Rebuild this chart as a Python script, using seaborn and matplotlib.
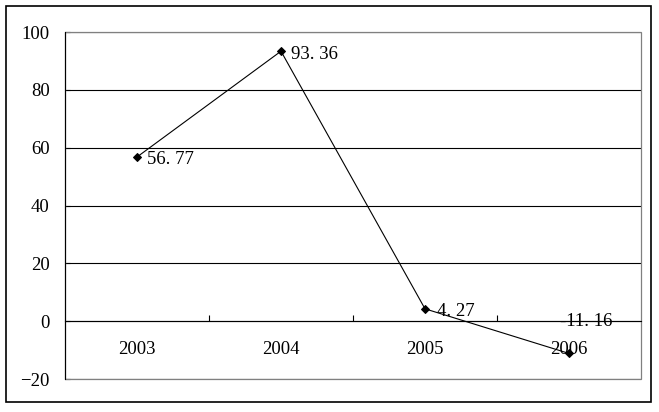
import matplotlib
matplotlib.use("Agg")
import matplotlib.pyplot as plt
import seaborn as sns
import pandas as pd
from matplotlib.patches import Rectangle
from matplotlib.ticker import FixedLocator

years = ["2003", "2004", "2005", "2006"]
values = [56.77, 93.36, 4.27, -11.16]
labels = ["56. 77", "93. 36", "4. 27", "-11. 16"]
yticks = [-20, 0, 20, 40, 60, 80, 100]

sns.set_theme(style="white")
plt.rcParams["font.family"] = ["Liberation Serif", "DejaVu Serif"]

DPI = 100
FS = 13.5
fig = plt.figure(figsize=(6.59, 4.12), dpi=DPI)
ax = fig.add_axes([65 / 659, 1 - 379 / 412, 576 / 659, 347 / 412])

df = pd.DataFrame({"year": years, "value": values})
sns.lineplot(data=df, x="year", y="value", ax=ax, color="black",
             linewidth=0.8, marker="D", markersize=4.5,
             markeredgecolor="black", markerfacecolor="black", zorder=3)

ax.set_xlim(-0.5, len(years) - 0.5)
ax.set_ylim(yticks[0], yticks[-1])
ax.set_yticks(yticks)
ax.set_xlabel("")
ax.set_ylabel("")

# grid
ax.yaxis.grid(True, color="black", linewidth=0.8)
ax.xaxis.grid(False)
ax.set_axisbelow(True)

# spines
for s in ["top", "right"]:
    ax.spines[s].set_visible(False)
ax.spines["left"].set_color("black")
ax.spines["left"].set_linewidth(0.8)
ax.spines["bottom"].set_position(("data", 0))
ax.spines["bottom"].set_color("black")
ax.spines["bottom"].set_linewidth(0.8)
ax.spines["bottom"].set_zorder(2.6)

# gray plot-area border
ax.add_patch(Rectangle((0, 0), 1, 1, transform=ax.transAxes, fill=False,
                       edgecolor="#808080", linewidth=0.9, zorder=2.4,
                       clip_on=False))

# ticks
ax.tick_params(axis="x", which="major", length=0, pad=14, labelsize=FS,
               labelcolor="black")
ax.xaxis.set_minor_locator(FixedLocator([i + 0.5 for i in range(len(years) - 1)]))
ax.tick_params(axis="x", which="minor", direction="in", length=4.5,
               width=0.8, color="black", bottom=True)
ax.tick_params(axis="y", direction="in", length=3.6, width=0.8, color="black",
               pad=11, labelsize=FS, labelcolor="black", left=True)

# data labels
offsets = [(10, -2), (10, -3), (12, -3), (-9, 32)]
for i, (v, lab, off) in enumerate(zip(values, labels, offsets)):
    ax.annotate(lab, xy=(i, v), xytext=off, textcoords="offset pixels",
                ha="left", va="center", fontsize=FS, color="black",
                zorder=1 if v < 0 else 4)

# outer chart border
fig.patches.append(Rectangle((6 / 659, 1 - 402 / 412), 645 / 659, 396 / 412,
                             transform=fig.transFigure, fill=False,
                             edgecolor="black", linewidth=1.2))

fig.savefig("out.png", dpi=DPI)
